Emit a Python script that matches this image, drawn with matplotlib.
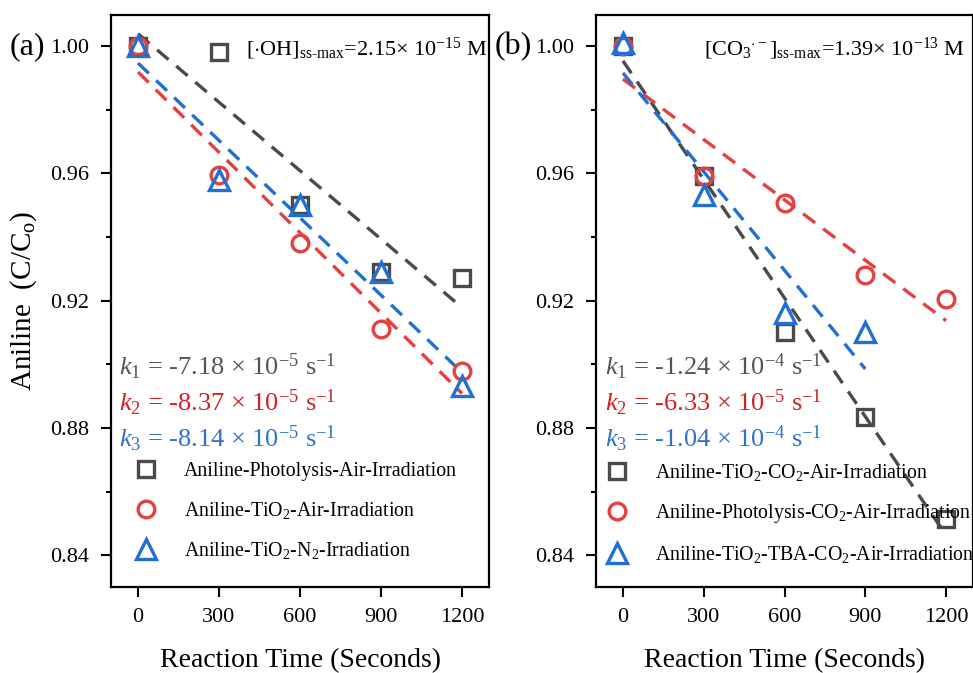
import matplotlib
matplotlib.use('Agg')
import matplotlib.pyplot as plt
from matplotlib.ticker import MultipleLocator, FormatStrFormatter
from matplotlib.lines import Line2D
import numpy as np

plt.rcParams['font.family'] = 'Liberation Serif'
plt.rcParams['mathtext.fontset'] = 'custom'
plt.rcParams['mathtext.rm'] = 'Liberation Serif'
plt.rcParams['mathtext.it'] = 'Liberation Serif:italic'
plt.rcParams['mathtext.bf'] = 'Liberation Serif:bold'

# Data
time_s = [0, 300, 600, 900, 1200]

# panel (a)
a_photolysis = [1.000, 0.998, 0.950, 0.929, 0.927]
a_tio2_air = [1.000, 0.9595, 0.938, 0.911, 0.898]
a_tio2_n2 = [1.000, 0.958, 0.950, 0.929, 0.893]
a_labels = ['Aniline-Photolysis-Air-Irradiation',
            'Aniline-TiO$_2$-Air-Irradiation',
            'Aniline-TiO$_2$-N$_2$-Irradiation']
a_k = ['$k_1$ = -7.18 × 10$^{-5}$ s$^{-1}$',
       '$k_2$ = -8.37 × 10$^{-5}$ s$^{-1}$',
       '$k_3$ = -8.14 × 10$^{-5}$ s$^{-1}$']

# panel (b)
time_b_tba = [0, 300, 600, 900]
b_tio2_co2 = [1.000, 0.959, 0.910, 0.8835, 0.8515]
b_photolysis_co2 = [1.000, 0.959, 0.9505, 0.928, 0.9206]
b_tio2_tba = [1.001, 0.953, 0.916, 0.910]
b_labels = ['Aniline-TiO$_2$-CO$_2$-Air-Irradiation',
            'Aniline-Photolysis-CO$_2$-Air-Irradiation',
            'Aniline-TiO$_2$-TBA-CO$_2$-Air-Irradiation']
b_k = ['$k_1$ = -1.24 × 10$^{-4}$ s$^{-1}$',
       '$k_2$ = -6.33 × 10$^{-5}$ s$^{-1}$',
       '$k_3$ = -1.04 × 10$^{-4}$ s$^{-1}$']

gray = '#4a4a4a'
red = '#e4403f'
blue = '#1f6fd4'
k_colors = ['#555555', '#d42020', '#2f72cc']
markers = ['s', 'o', '^']
msizes = [11, 12, 14]
colors = [gray, red, blue]

fig = plt.figure(figsize=(9.73, 6.73), dpi=100)
ax_a = fig.add_axes([111 / 973, 1 - 587 / 673, 378 / 973, 572 / 673])
ax_b = fig.add_axes([596 / 973, 1 - 587 / 673, 377 / 973, 572 / 673])


def draw_panel(ax, series, labels, ktexts, kx, leg_anchor):
    for (x, y), c in zip(series, colors):
        x = np.array(x, dtype=float)
        slope, icpt = np.polyfit(x, y, 1)
        xx = np.array([x[0], x[-1]])
        ax.plot(xx, icpt + slope * xx, color=c, lw=2.4, dashes=[4.5, 3], zorder=2)
    for (x, y), c, m, ms in zip(series, colors, markers, msizes):
        ax.plot(x, y, ls='none', marker=m, ms=ms, mfc='none', mec=c, mew=2.4,
                zorder=3, clip_on=False)
    handles = [Line2D([], [], ls='none', marker=m, ms=ms, mfc='none', mec=c, mew=2.4)
               for c, m, ms in zip(colors, markers, msizes)]
    ax.legend(handles, labels, loc='upper left', bbox_to_anchor=leg_anchor,
              frameon=False, fontsize=14.3, handlelength=1.0, handletextpad=1.4,
              labelspacing=0.95, borderaxespad=0)
    for txt, c, yy in zip(ktexts, k_colors, [0.385, 0.322, 0.258]):
        ax.text(kx, yy, txt, color=c, fontsize=19, transform=ax.transAxes,
                ha='left', va='center')

    ax.set_xlim(-100, 1300)
    ax.set_ylim(0.83, 1.0097)
    ax.set_xticks(time_s)
    ax.yaxis.set_major_locator(MultipleLocator(0.04))
    ax.yaxis.set_minor_locator(MultipleLocator(0.02))
    ax.yaxis.set_major_formatter(FormatStrFormatter('%.2f'))
    ax.tick_params(axis='both', which='major', direction='out', length=7,
                   width=1.5, labelsize=16)
    ax.tick_params(axis='x', which='major', pad=8)
    ax.tick_params(axis='y', which='major', pad=9)
    ax.tick_params(axis='y', which='minor', direction='out', length=3.5, width=1.5)
    for sp in ax.spines.values():
        sp.set_linewidth(1.6)
    ax.set_xlabel('Reaction Time (Seconds)', fontsize=20, labelpad=15)


draw_panel(ax_a, [(time_s, a_photolysis), (time_s, a_tio2_air), (time_s, a_tio2_n2)],
           a_labels, a_k, 0.02, (0.045, 0.232))
draw_panel(ax_b, [(time_s, b_tio2_co2), (time_s, b_photolysis_co2), (time_b_tba, b_tio2_tba)],
           b_labels, b_k, 0.024, (0.008, 0.232))

ax_a.set_ylabel('Aniline  (C/C$_\\mathrm{o}$)', fontsize=21, labelpad=8)

ax_a.text(0.995, 0.93, r'[$\cdot$OH]$_{\mathrm{ss\text{-}max}}$=2.15× 10$^{-15}$ M',
          transform=ax_a.transAxes, ha='right', va='baseline', fontsize=16)
ax_b.text(0.979, 0.93, r'[CO$_3$$^{\cdot -}$]$_{\mathrm{ss\text{-}max}}$=1.39× 10$^{-13}$ M',
          transform=ax_b.transAxes, ha='right', va='baseline', fontsize=16)

fig.text(10 / 973, 1 - 47 / 673, '(a)', fontsize=23, ha='left', va='center')
fig.text(495 / 973, 1 - 47 / 673, '(b)', fontsize=23, ha='left', va='center')

fig.savefig('out.png', dpi=100)
